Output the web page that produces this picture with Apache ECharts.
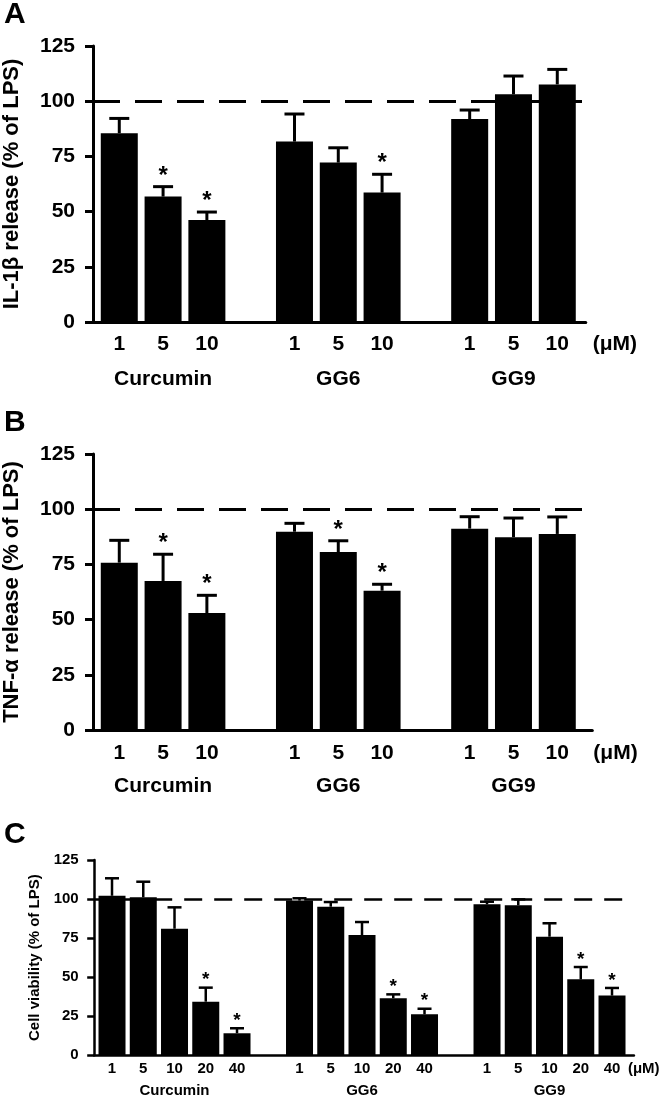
<!DOCTYPE html>
<html><head><meta charset="utf-8">
<script src="https://cdn.jsdelivr.net/npm/echarts@6/dist/echarts.min.js"></script>
<style>html,body{margin:0;padding:0;background:#fff}#c{width:663px;height:1103px}</style>
</head><body><div id="c"></div>
<script>
// ---------------- data ----------------
const groups = ['Curcumin', 'GG6', 'GG9'];
const dosesAB = ['1', '5', '10'];
const dosesC = ['1', '5', '10', '20', '40'];
const yTicks = [0, 25, 50, 75, 100, 125];
const refLevel = 100;

// Panel A: IL-1β release (% of LPS)
const aMean  = [85.5, 56.8, 46.2, 81.7, 72.2, 58.6, 91.9, 103.1, 107.6];
const aUpper = [92.2, 61.3, 49.8, 94.2, 78.9, 66.9, 96.0, 111.4, 114.4];
const aSig   = [0, 1, 1, 0, 0, 1, 0, 0, 0];

// Panel B: TNF-α release (% of LPS)
const bMean  = [75.8, 67.5, 53.0, 89.8, 80.6, 63.1, 91.2, 87.3, 88.8];
const bUpper = [85.9, 79.6, 61.0, 93.6, 85.7, 66.0, 96.6, 96.0, 96.5];
const bSig   = [0, 1, 1, 0, 1, 1, 0, 0, 0];

// Panel C: Cell viability (% of LPS)
const cMean  = [102.1, 101.1, 81.0, 34.3, 14.1, 99.0, 95.1, 77.0, 36.5, 26.2, 96.6, 96.0, 75.9, 48.6, 38.2];
const cUpper = [113.3, 111.1, 94.7, 43.3, 17.3, 100.5, 98.1, 85.3, 39.0, 29.8, 98.3, 99.8, 84.5, 56.5, 43.1];
const cSig   = [0, 0, 0, 1, 1, 0, 0, 0, 1, 1, 0, 0, 0, 1, 1];

// ---------------- layout ----------------
const FF = '"Liberation Sans", Arial, Helvetica, sans-serif';
const panels = [
  { letter: 'A', letterY: 14.5, title: 'IL-1β release (% of LPS)', doses: dosesAB, mean: aMean, upper: aUpper, sig: aSig,
    left: 93, top: 46, height: 276, pitch: 43.8, xMin: -0.6, xMax: 10.65,
    barW: 37, cap: 20, lw: 3, fs: 21, tfs: 22, nameGap: 70, yMargin: 18, tickLen: 8,
    xMargin: 12, gMargin: 47, unitGap: 7, unitPad: 12, dash: [27, 15], starFs: 24, starGap: 10.5 },
  { letter: 'B', letterY: 422.5, title: 'TNF-α release (% of LPS)', doses: dosesAB, mean: bMean, upper: bUpper, sig: bSig,
    left: 93, top: 454, height: 276, pitch: 43.8, xMin: -0.6, xMax: 10.8,
    barW: 37, cap: 20, lw: 3, fs: 21, tfs: 22, nameGap: 70, yMargin: 18, tickLen: 8,
    xMargin: 13, gMargin: 46, unitGap: 1, unitPad: 13, dash: [27, 15], starFs: 24, starGap: 10.5 },
  { letter: 'C', letterY: 835, title: 'Cell viability (% of LPS)', doses: dosesC, mean: cMean, upper: cUpper, sig: cSig,
    left: 94.2, top: 860, height: 195.3, pitch: 31.25, xMin: -0.57, xMax: 16.7,
    barW: 27, cap: 14, lw: 2.5, fs: 15, tfs: 15, nameGap: 52, yMargin: 15.5, tickLen: 7,
    xMargin: 6, gMargin: 28, unitGap: -6, unitPad: 6, dash: [18, 12], starFs: 19, starGap: 7.5 }
];

const grid = [], xAxis = [], yAxis = [], series = [], graphic = [];

function errRender(p) {
  return function (params, api) {
    const x = api.value(0), up = api.value(1), m = api.value(2), s = api.value(3);
    const p0 = api.coord([x, m]), p1 = api.coord([x, up]);
    const ch = [
      { type: 'line', shape: { x1: p0[0], y1: p0[1], x2: p1[0], y2: p1[1] }, style: { stroke: '#000', lineWidth: p.lw } },
      { type: 'line', shape: { x1: p1[0] - p.cap / 2, y1: p1[1], x2: p1[0] + p.cap / 2, y2: p1[1] }, style: { stroke: '#000', lineWidth: p.lw } }
    ];
    if (s) ch.push({ type: 'text', style: { text: '*', x: p1[0], y: p1[1] - p.starGap, align: 'center', verticalAlign: 'middle',
      fontSize: p.starFs, fontWeight: 'bold', fontFamily: FF, fill: '#000' } });
    return { type: 'group', children: ch };
  };
}

panels.forEach((p, i) => {
  const n = p.doses.length;
  const slots = [], doseMap = {}, groupSlots = [], groupMap = {};
  groups.forEach((g, gi) => {
    p.doses.forEach((d, di) => { const s = gi * (n + 1) + di; slots.push(s); doseMap[s] = d; });
    const c = gi * (n + 1) + (n - 1) / 2; groupSlots.push(c); groupMap[c] = g;
  });
  grid.push({ left: p.left, top: p.top, width: (p.xMax - p.xMin) * p.pitch, height: p.height, outerBoundsMode: 'none', containLabel: false });
  const lab = { color: '#000', fontWeight: 'bold', fontFamily: FF, fontSize: p.fs };
  xAxis.push({
    type: 'value', gridIndex: i, min: p.xMin, max: p.xMax, position: 'bottom',
    axisLine: { show: true, onZero: false, lineStyle: { color: '#000', width: p.lw } },
    axisTick: { show: false }, splitLine: { show: false },
    axisLabel: Object.assign({ customValues: slots, margin: p.xMargin, formatter: v => doseMap[Math.round(v)] || '' }, lab),
    name: '(μM)', nameLocation: 'end', nameGap: p.unitGap,
    nameTextStyle: Object.assign({ verticalAlign: 'top', align: 'left', padding: [p.unitPad, 0, 0, 0] }, lab)
  });
  xAxis.push({
    type: 'value', gridIndex: i, min: p.xMin, max: p.xMax, position: 'bottom',
    axisLine: { show: false }, axisTick: { show: false }, splitLine: { show: false },
    axisLabel: Object.assign({ customValues: groupSlots, margin: p.gMargin, formatter: v => groupMap[v] || '' }, lab)
  });
  yAxis.push({
    type: 'value', gridIndex: i, min: yTicks[0], max: yTicks[yTicks.length - 1], interval: yTicks[1] - yTicks[0],
    axisLine: { show: true, onZero: false, lineStyle: { color: '#000', width: p.lw } },
    axisTick: { show: true, length: p.tickLen, lineStyle: { color: '#000', width: p.lw } },
    splitLine: { show: false },
    axisLabel: Object.assign({ margin: p.yMargin }, lab),
    name: p.title, nameLocation: 'middle', nameGap: p.nameGap,
    nameTextStyle: { color: '#000', fontWeight: 'bold', fontFamily: FF, fontSize: p.tfs }
  });
  series.push({
    type: 'bar', xAxisIndex: 2 * i, yAxisIndex: i, barWidth: p.barW,
    data: slots.map((s, k) => [s, p.mean[k]]), itemStyle: { color: '#000' }, silent: true,
    markLine: { silent: true, symbol: ['none', 'none'], label: { show: false },
      lineStyle: { color: '#000', width: p.lw, type: p.dash, dashOffset: 0 }, data: [{ yAxis: refLevel }] }
  });
  series.push({
    type: 'custom', xAxisIndex: 2 * i, yAxisIndex: i, renderItem: errRender(p), silent: true, z: 5,
    encode: { x: 0, y: 1 },
    data: slots.map((s, k) => [s, p.upper[k], p.mean[k], p.sig[k]])
  });
  graphic.push({ type: 'text', x: 4, y: p.letterY, style: { text: p.letter, fontSize: 30, fontWeight: 'bold', fontFamily: FF, fill: '#000', verticalAlign: 'middle' } });
});

const chart = echarts.init(document.getElementById('c'), null, { renderer: 'canvas' });
chart.setOption({ animation: false, backgroundColor: '#fff', grid, xAxis, yAxis, series, graphic });
</script>
</body></html>
